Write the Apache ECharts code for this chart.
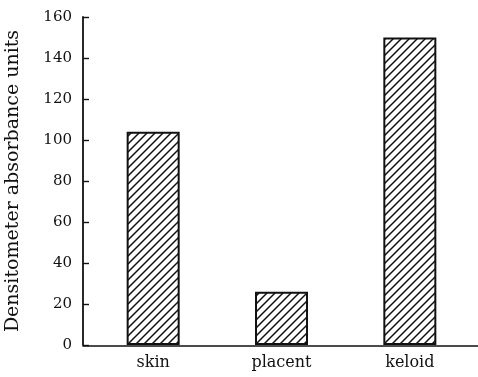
<!DOCTYPE html>
<html><head><meta charset="utf-8">
<script src="https://cdn.jsdelivr.net/npm/echarts@6/dist/echarts.min.js"></script>
<style>html,body{margin:0;padding:0;background:#fff}#c{width:478px;height:377px}</style>
</head><body><div id="c"></div>
<script>
const categories = ['skin', 'placent', 'keloid'];
const values = [104, 26, 150];
const yTickLabels = ['0', '20', '40', '60', '80', '100', '120', '140', '160'];
const yAxisName = 'Densitometer absorbance units';

// hatch pattern
const T = 8;
const tile = document.createElement('canvas');
tile.width = T; tile.height = T;
const g = tile.getContext('2d');
g.fillStyle = '#fff'; g.fillRect(0, 0, T, T);
g.strokeStyle = '#111'; g.lineWidth = 1.5;
g.beginPath();
g.moveTo(-1, T + 1); g.lineTo(T + 1, -1);
g.moveTo(-1, 1); g.lineTo(1, -1);
g.moveTo(T - 1, T + 1); g.lineTo(T + 1, T - 1);
g.stroke();

const font = 'DejaVu Serif';
const chart = echarts.init(document.getElementById('c'));
chart.setOption({
  animation: false,
  backgroundColor: '#fff',
  grid: [
    { left: 89, width: 385, top: 17, bottom: 32, outerBoundsMode: 'none', containLabel: false },
    { left: 83, right: 0, top: 17, bottom: 31, outerBoundsMode: 'none', containLabel: false }
  ],
  xAxis: [
    { type: 'category', gridIndex: 0, data: categories, boundaryGap: true,
      axisLine: { show: false }, axisTick: { show: false },
      axisLabel: { color: '#111', fontFamily: font, fontSize: 16, margin: 10 } },
    { type: 'category', gridIndex: 1, data: [''],
      axisLine: { show: true, lineStyle: { color: '#111', width: 1.6 } },
      axisTick: { show: false }, axisLabel: { show: false } }
  ],
  yAxis: [
    { type: 'value', gridIndex: 0, min: 0, max: 160, interval: 20, offset: 6,
      name: yAxisName, nameLocation: 'middle', nameGap: 60, nameRotate: 90,
      nameTextStyle: { color: '#111', fontFamily: font, fontSize: 19 },
      axisLine: { show: true, lineStyle: { color: '#111', width: 1.8 } },
      axisTick: { show: true, inside: true, length: 6, lineStyle: { color: '#111', width: 1.4 } },
      splitLine: { show: false },
      axisLabel: { color: '#111', fontFamily: font, fontSize: 15, margin: 11,
        formatter: (v) => yTickLabels[Math.round(v / 20)] } },
    { type: 'value', gridIndex: 1, show: false }
  ],
  series: [{
    type: 'bar', xAxisIndex: 0, yAxisIndex: 0, data: values, barWidth: 53,
    itemStyle: { color: { image: tile, repeat: 'repeat' }, borderColor: '#111', borderWidth: 2 }
  }]
});
</script></body></html>
